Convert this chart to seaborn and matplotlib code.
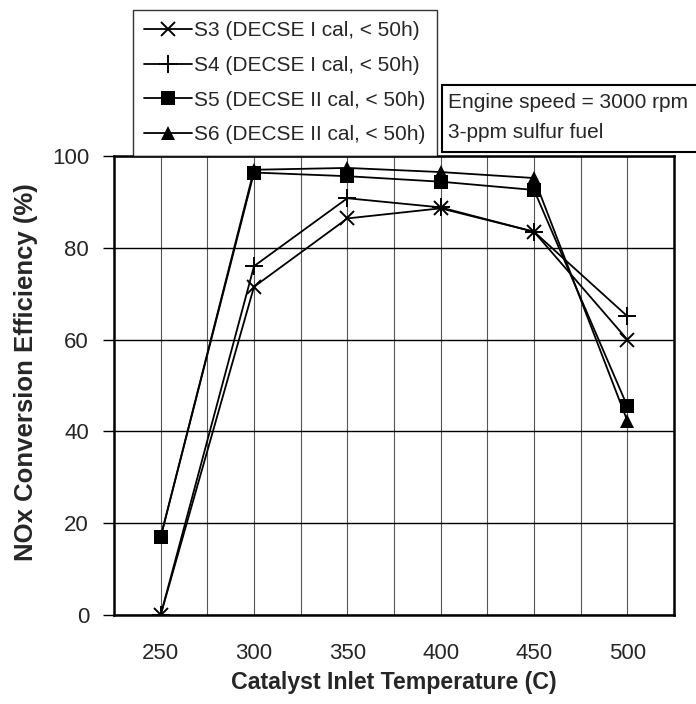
import numpy as np
import pandas as pd
import matplotlib
matplotlib.use("Agg")
import matplotlib.pyplot as plt
import seaborn as sns
from matplotlib.patches import Rectangle

# ---- data ----
temperatures = [250, 300, 350, 400, 450, 500]
series_names = ["S3 (DECSE I cal, < 50h)", "S4 (DECSE I cal, < 50h)",
                "S5 (DECSE II cal, < 50h)", "S6 (DECSE II cal, < 50h)"]
s3_values = [0.0, 71.5, 86.4, 88.6, 83.5, 60.0]
s4_values = [0.0, 76.0, 90.8, 88.8, 83.5, 65.1]
s5_values = [17.0, 96.4, 95.6, 94.4, 92.6, 45.5]
s6_values = [17.0, 97.0, 97.4, 96.5, 95.2, 42.3]
y_ticks = [0, 20, 40, 60, 80, 100]
annotation_lines = ["Engine speed = 3000 rpm", "3-ppm sulfur fuel"]

sns.set_style("white")
plt.rcParams["font.family"] = ["Liberation Sans", "DejaVu Sans"]

fig = plt.figure(figsize=(6.96, 7.04), dpi=100)
ax = fig.add_axes([114/696, 1-615/704, (674-114)/696, (615-156)/704])

styles = {
    series_names[0]: dict(marker="x", ms=10, mew=1.4),
    series_names[1]: dict(marker="+", ms=13, mew=1.4),
    series_names[2]: dict(marker="s", ms=10, mew=0),
    series_names[3]: dict(marker="^", ms=10.5, mew=0),
}
values = {series_names[0]: s3_values, series_names[1]: s4_values,
          series_names[2]: s5_values, series_names[3]: s6_values}

draw_order = [series_names[0], series_names[1], series_names[3], series_names[2]]
handles = {}
for name in draw_order:
    df = pd.DataFrame({"temp": temperatures, "eff": values[name]})
    st = styles[name]
    sns.lineplot(data=df, x="temp", y="eff", ax=ax, color="black", lw=1.3,
                 marker=st["marker"], markersize=st["ms"], markeredgewidth=st["mew"],
                 markeredgecolor="black", markerfacecolor="black", label=name,
                 legend=False, zorder=3)
    handles[name] = ax.lines[-1]

ax.set_xlim(225, 525)
ax.set_ylim(0, 100)
ax.set_xticks(temperatures)
ax.set_xticks([275, 325, 375, 425, 475], minor=True)
ax.set_yticks(y_ticks)
ax.grid(axis="x", which="both", color="#555555", lw=0.8, zorder=0)
ax.grid(axis="y", which="major", color="black", lw=1.0, zorder=0)
ax.tick_params(axis="x", which="both", length=0, pad=20, labelsize=16)
ax.tick_params(axis="y", which="major", length=8, width=1, color="black",
               direction="out", left=True, pad=10, labelsize=16)
for sp in ax.spines.values():
    sp.set_visible(True)
    sp.set_color("black")
    sp.set_linewidth(1.8)

ax.set_xlabel("Catalyst Inlet Temperature (C)", fontsize=16.7, fontweight="bold", labelpad=5)
ax.set_ylabel("NOx Conversion Efficiency (%)", fontsize=18.5, fontweight="bold")
ax.yaxis.set_label_coords((38-114)/560, (615-372)/459)

leg = ax.legend([handles[n] for n in series_names], series_names,
                loc="upper left", bbox_to_anchor=(133/696, 1-10/704),
                bbox_transform=fig.transFigure, borderaxespad=0, fontsize=15,
                frameon=True, fancybox=False, edgecolor="black", borderpad=0.55,
                handlelength=2.3, handletextpad=0.1, labelspacing=0.75)
leg.get_frame().set_linewidth(1.0)

# annotation box
fig.patches.append(Rectangle((442/696, 1-152/704), (700-442)/696, (152-85)/704,
                             transform=fig.transFigure, facecolor="white",
                             edgecolor="black", lw=1.5, zorder=5))
fig.text(448/696, 1-102/704, annotation_lines[0], fontsize=15, va="center",
         ha="left", zorder=6)
fig.text(448/696, 1-132/704, annotation_lines[1], fontsize=15, va="center",
         ha="left", zorder=6)

fig.savefig("out.png", dpi=100)
